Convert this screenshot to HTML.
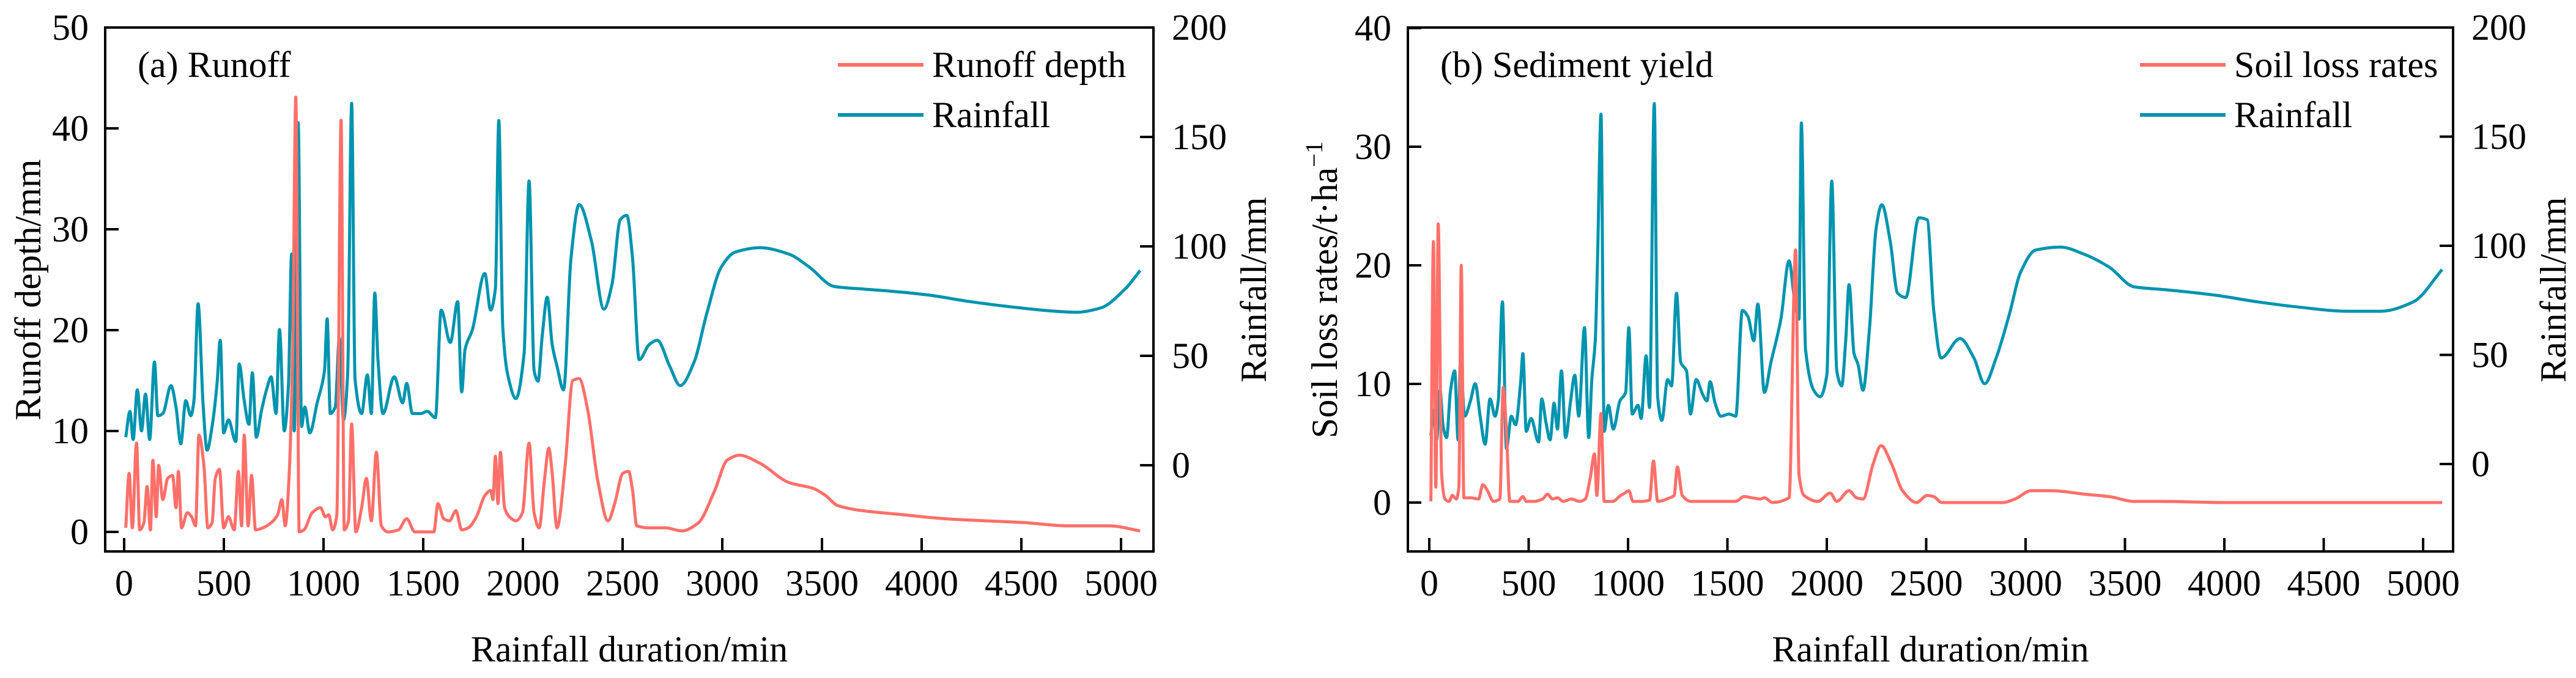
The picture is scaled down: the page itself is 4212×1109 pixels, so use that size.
<!DOCTYPE html>
<html><head><meta charset="utf-8"><style>
html,body{margin:0;padding:0;background:#fff;}
svg text{font-family:"Liberation Serif","Times New Roman",serif;fill:#000;}
</style></head><body>
<svg id="chart" xmlns="http://www.w3.org/2000/svg" width="4212" height="1104" viewBox="0 0 4212 1104"></svg>
<script>
// ---------- Panel (a) data ----------
const rainA_t = [8,29,45,66,87,107,128,152,169,194,235,260,284,309,334,350,371,396,416,441,466,482,499,523,560,577,602,626,643,663,688,717,737,762,779,803,824,840,853,873,890,906,931,968,1005,1018,1034,1059,1079,1100,1121,1141,1158,1191,1220,1240,1257,1273,1298,1355,1397,1417,1446,1487,1520,1561,1590,1636,1673,1693,1710,1747,1809,1838,1862,1879,1899,1924,1965,2006,2031,2056,2076,2097,2122,2147,2171,2204,2241,2282,2344,2406,2447,2488,2521,2550,2583,2633,2674,2736,2789,2859,2921,2995,3065,3189,3333,3436,3560,3621,3827,4033,4239,4445,4651,4775,4899,5022,5096];
const rainA_v = [12.8,24.6,11.8,34.4,15.7,32.5,11.8,47.2,22.6,23.6,36.4,26.6,9.8,29.5,22.6,29.5,73.8,27.6,6.9,17.7,37.4,57.1,14.8,20.7,10.8,46.3,29.5,18.7,42.3,12.8,24.6,35.4,40.4,23.6,62,15.7,36.4,96.5,15.7,156.5,17.7,26.6,14.8,28.5,43.3,66.9,23.6,26.6,58.1,20.7,41.3,165.4,39.4,23.6,41.3,23.6,78.7,48.2,23.6,40.4,28.5,37.4,23.6,23.6,24.6,21.7,70.9,56.1,74.8,33.5,53.1,62,87.6,70.9,80.7,157.5,63,41.3,30.5,51.2,129.9,43.3,38.4,59.1,76.8,55.1,45.3,34.4,94.5,119.1,102.4,71.3,82.7,112.2,114.2,94.5,48.2,55.1,57.1,45.3,36.4,47.2,68.9,90.6,97.4,99.4,96.5,90.6,81.7,81.1,79.7,77.8,74.8,72.4,70.5,69.9,71.9,80.7,89];
const runoffA_t = [8,25,41,62,78,99,115,132,144,161,173,194,218,243,260,272,288,317,338,358,375,400,420,441,457,478,499,523,552,573,589,602,622,639,659,696,737,770,791,808,828,845,861,878,902,943,985,1009,1026,1046,1067,1088,1104,1125,1141,1162,1191,1215,1240,1265,1290,1323,1376,1417,1458,1500,1553,1574,1603,1632,1664,1693,1726,1767,1809,1838,1850,1862,1875,1887,1908,1932,1965,1998,2031,2056,2081,2109,2130,2147,2171,2212,2250,2282,2324,2377,2427,2460,2501,2530,2550,2571,2633,2715,2797,2880,2962,3024,3086,3189,3333,3457,3518,3580,3704,3910,4116,4322,4528,4734,4940,5096];
const runoffA_v = [0.4,5.8,0.4,8.8,0.2,0.9,4.5,0.2,7.1,1.5,6.6,3.2,5.3,5.6,2.4,6.0,0.4,1.9,1.5,0.6,9.6,6.6,0.4,0.9,5.3,6.2,0.4,1.5,0.2,6.0,0.6,9.6,0.6,5.6,0.2,0.4,0.9,1.7,3.2,0.6,5.8,17.7,43.1,0,0.2,1.9,2.4,1.5,1.7,0.2,1.7,40.8,0.2,1.1,10.7,0,2.4,5.3,1.1,7.9,0.6,0,0.2,1.3,0,0,0,2.8,1.3,1.1,2.1,0.2,0.4,1.5,3.6,4.1,3.2,7.5,2.8,7.9,2.4,1.5,1.1,1.9,8.8,1.9,0.4,5.3,8.3,5.8,0.4,6.6,15.0,15.2,12.2,4.9,1.1,2.8,5.8,6.0,4.1,0.6,0.4,0.4,0.1,0.9,4.1,7.1,7.6,6.8,4.9,4.3,3.6,2.6,2.1,1.7,1.3,1.1,0.9,0.6,0.6,0.1];
// ---------- Panel (b) data ----------
const rainB_t = [8,25,37,54,70,87,107,128,145,157,178,207,231,256,281,306,331,347,368,388,413,434,459,471,488,512,550,566,587,608,628,645,665,686,711,732,752,781,802,818,835,847,864,880,901,926,959,988,1004,1021,1050,1066,1091,1108,1132,1149,1170,1199,1219,1244,1265,1294,1314,1343,1376,1397,1413,1438,1467,1509,1542,1575,1604,1633,1653,1686,1719,1769,1810,1839,1860,1872,1893,1934,1967,2000,2025,2050,2075,2095,2112,2137,2157,2182,2215,2248,2277,2319,2356,2397,2463,2505,2538,2575,2670,2740,2794,2852,2918,2976,3050,3174,3298,3422,3546,3711,3959,4166,4373,4621,4786,4951,5096];
const rainB_v = [13.0,24.9,11.1,33.8,17.0,12.1,33.8,42.7,11.1,47.6,21.9,28.9,36.8,21.9,9.1,29.8,21.9,28.9,74.3,7.1,21.9,18.0,36.8,50.6,15.0,20.9,10.1,29.8,19.0,11.1,27.9,16.0,42.7,12.1,28.9,40.7,21.9,62.5,12.1,38.7,56.5,96.0,160.3,15.0,26.9,16.0,28.9,32.8,62.5,22.9,26.9,20.9,49.6,25.9,165.2,30.8,20.0,38.7,35.8,78.3,46.6,42.7,22.9,38.7,31.8,28.9,37.7,27.9,21.9,22.9,21.9,70.4,67.4,56.5,73.3,32.8,46.6,66.4,93.1,74.3,66.4,156.3,52.6,33.8,30.8,40.7,129.6,42.7,35.8,56.5,82.2,50.6,45.7,33.8,62.5,107.9,118.8,102.0,78.3,76.3,112.8,111.9,70.4,48.6,57.5,48.6,36.8,48.6,68.4,88.1,98.0,99.4,96.0,90.1,81.2,79.8,77.3,74.3,71.9,70.0,70.0,74.3,89.1];
const soilB_t = [8,21,33,45,62,79,99,116,136,149,161,174,207,248,269,293,322,355,372,388,405,446,471,488,529,570,595,620,645,674,715,756,785,810,831,843,864,880,922,963,984,1004,1025,1066,1108,1128,1149,1211,1232,1248,1273,1314,1438,1542,1583,1624,1666,1686,1728,1810,1843,1860,1885,1955,2017,2050,2112,2149,2182,2232,2273,2327,2381,2451,2505,2538,2579,2678,2885,2947,3029,3133,3298,3422,3546,3670,4001,4249,5096];
const soilB_v = [0.1,22,1.3,23.5,2.4,0.3,0.1,0.6,0.3,1.3,20,0.4,0.4,0.3,1.5,1.0,0.1,0.3,9.7,6.1,0.1,0.1,0.5,0.1,0.1,0.3,0.7,0.3,0.4,0.1,0.3,0.1,0.3,2.1,4.1,0.6,7.5,0.1,0.1,0.6,0.8,1.0,0.1,0.1,0.2,3.5,0.1,0.4,0.6,3.0,0.6,0.1,0.1,0.1,0.5,0.4,0.3,0.4,0,0.4,21.3,2.4,0.6,0.1,0.8,0.1,1.0,0.4,0.3,3.2,4.8,3.2,1.0,0,0.6,0.5,0,0,0,0.3,1.0,1.0,0.7,0.5,0.1,0.1,0,0,0];
// ---------- ticks ----------
const xTicks = [0,500,1000,1500,2000,2500,3000,3500,4000,4500,5000];
const rightTicks = [0,50,100,150,200];
const leftTicksA = [0,10,20,30,40,50];
const leftTicksB = [0,10,20,30,40];

const RED = '#FF6F69', TEAL = '#0094AE';
const svg = document.getElementById('chart');
const NS = 'http://www.w3.org/2000/svg';
function mk(tag, attrs, parent) {
  const e = document.createElementNS(NS, tag);
  for (const k in attrs) e.setAttribute(k, attrs[k]);
  (parent || svg).appendChild(e);
  return e;
}
// monotone cubic path (no overshoot)
function monoPath(xs, ys) {
  const n = xs.length;
  if (n < 2) return '';
  const d = [], m = new Array(n);
  for (let i = 0; i < n - 1; i++) d.push((ys[i + 1] - ys[i]) / ((xs[i + 1] - xs[i]) || 1e-6));
  m[0] = d[0]; m[n - 1] = d[n - 2];
  for (let i = 1; i < n - 1; i++) m[i] = (d[i - 1] * d[i] <= 0) ? 0 : 2 / (1 / d[i - 1] + 1 / d[i]);
  let p = 'M' + xs[0].toFixed(1) + ',' + ys[0].toFixed(1);
  for (let i = 0; i < n - 1; i++) {
    const h = xs[i + 1] - xs[i];
    p += 'C' + (xs[i] + h / 3).toFixed(1) + ',' + (ys[i] + m[i] * h / 3).toFixed(1) + ' ' +
      (xs[i + 1] - h / 3).toFixed(1) + ',' + (ys[i + 1] - m[i + 1] * h / 3).toFixed(1) + ' ' +
      xs[i + 1].toFixed(1) + ',' + ys[i + 1].toFixed(1);
  }
  return p;
}

function panel(cfg) {
  const g = mk('g', {});
  
  
  const X = t => cfg.x0 + t * cfg.xs;
  const YL = v => cfg.yl0 - v * cfg.yls;
  const YR = v => cfg.yr0 - v * cfg.yrs;
  const mkLine = (ts, vs, yf, color, nm) => {
    const d = monoPath(ts.map(X), vs.map(yf));
    const p = mk('path', {d: d, fill: 'none', stroke: color, 'stroke-width': 5, 'stroke-linejoin': 'round'}, g);
    
    
  };
  mkLine(cfg.rt, cfg.rv, YR, TEAL, 'rainfall-line');
  mkLine(cfg.lt, cfg.lv, YL, RED, cfg.lname);
  const fr = mk('rect', {x: cfg.L, y: cfg.T, width: cfg.R - cfg.L, height: cfg.B - cfg.T, fill: 'none', stroke: '#000', 'stroke-width': 4}, g);
  
  
  xTicks.forEach(v => {
    const x = X(v);
    const tk = mk('line', {x1: x, x2: x, y1: cfg.B, y2: cfg.B - 22, stroke: '#000', 'stroke-width': 4}, g);
    
    
    const tx = mk('text', {x: x, y: 974, 'font-size': 60, 'text-anchor': 'middle'}, g);
    tx.textContent = v;
    
    
  });
  cfg.lticks.forEach(v => {
    const y = YL(v);
    const tk = mk('line', {x1: cfg.L, x2: cfg.L + 22, y1: y, y2: y, stroke: '#000', 'stroke-width': 4}, g);
    
    
    const tx = mk('text', {x: cfg.L - 27, y: y + 20, 'font-size': 60, 'text-anchor': 'end'}, g);
    tx.textContent = v;
    
    
  });
  rightTicks.forEach(v => {
    const y = YR(v);
    const tk = mk('line', {x1: cfg.R, x2: cfg.R - 22, y1: y, y2: y, stroke: '#000', 'stroke-width': 4}, g);
    
    
    const tx = mk('text', {x: cfg.R + 30, y: y + 20, 'font-size': 60}, g);
    tx.textContent = v;
    
    
  });
  const pl = mk('text', {x: cfg.L + 53, y: 126, 'font-size': 60}, g);
  pl.textContent = cfg.label;
  
  
  const lg = mk('g', {}, g);
  
  
  [[cfg.lname === 'runoff-depth-line' ? 'Runoff depth' : 'Soil loss rates', RED, 106], ['Rainfall', TEAL, 188]].forEach(e => {
    const ln = mk('line', {x1: cfg.legX, x2: cfg.legX + 140, y1: e[2], y2: e[2], stroke: e[1], 'stroke-width': 6}, lg);
    
    
    const tx = mk('text', {x: cfg.legX + 154, y: e[2] + 20, 'font-size': 60}, lg);
    tx.textContent = e[0];
    
    
  });
  const xt = mk('text', {x: (cfg.L + cfg.R) / 2, y: 1082, 'font-size': 60, 'text-anchor': 'middle'}, g);
  xt.textContent = 'Rainfall duration/min';
  
  
  const lt = mk('text', {x: 0, y: 0, 'font-size': 60, 'text-anchor': 'middle', transform: 'translate(' + cfg.ltx + ',474) rotate(-90)'}, g);
  
  
  if (cfg.lname === 'runoff-depth-line') {
    lt.textContent = 'Runoff depth/mm';
  } else {
    lt.appendChild(document.createTextNode('Soil loss rates/t\u00B7ha'));
    const sup = mk('tspan', {'font-size': 40, dy: -24}, lt);
    sup.textContent = '\u22121';
  }
  const rt = mk('text', {x: 0, y: 0, 'font-size': 60, 'text-anchor': 'middle', transform: 'translate(' + cfg.rtx + ',474) rotate(-90)'}, g);
  rt.textContent = 'Rainfall/mm';
  
  
}

panel({name: 'panel-a-runoff', label: '(a) Runoff', L: 172, R: 1886, T: 45, B: 902,
  x0: 203, xs: 0.326, yl0: 870, yls: 16.5, yr0: 761, yrs: 3.58,
  rt: rainA_t, rv: rainA_v, lt: runoffA_t, lv: runoffA_v, lname: 'runoff-depth-line',
  lticks: leftTicksA, legX: 1370, ltx: 66, rtx: 2070});
panel({name: 'panel-b-sediment', label: '(b) Sediment yield', L: 2302, R: 4011, T: 45, B: 902,
  x0: 2337, xs: 0.325, yl0: 822, yls: 19.4, yr0: 759, yrs: 3.57,
  rt: rainB_t, rv: rainB_v, lt: soilB_t, lv: soilB_v, lname: 'soil-loss-rates-line',
  lticks: leftTicksB, legX: 3499, ltx: 2186, rtx: 4195});
</script>
</body></html>
